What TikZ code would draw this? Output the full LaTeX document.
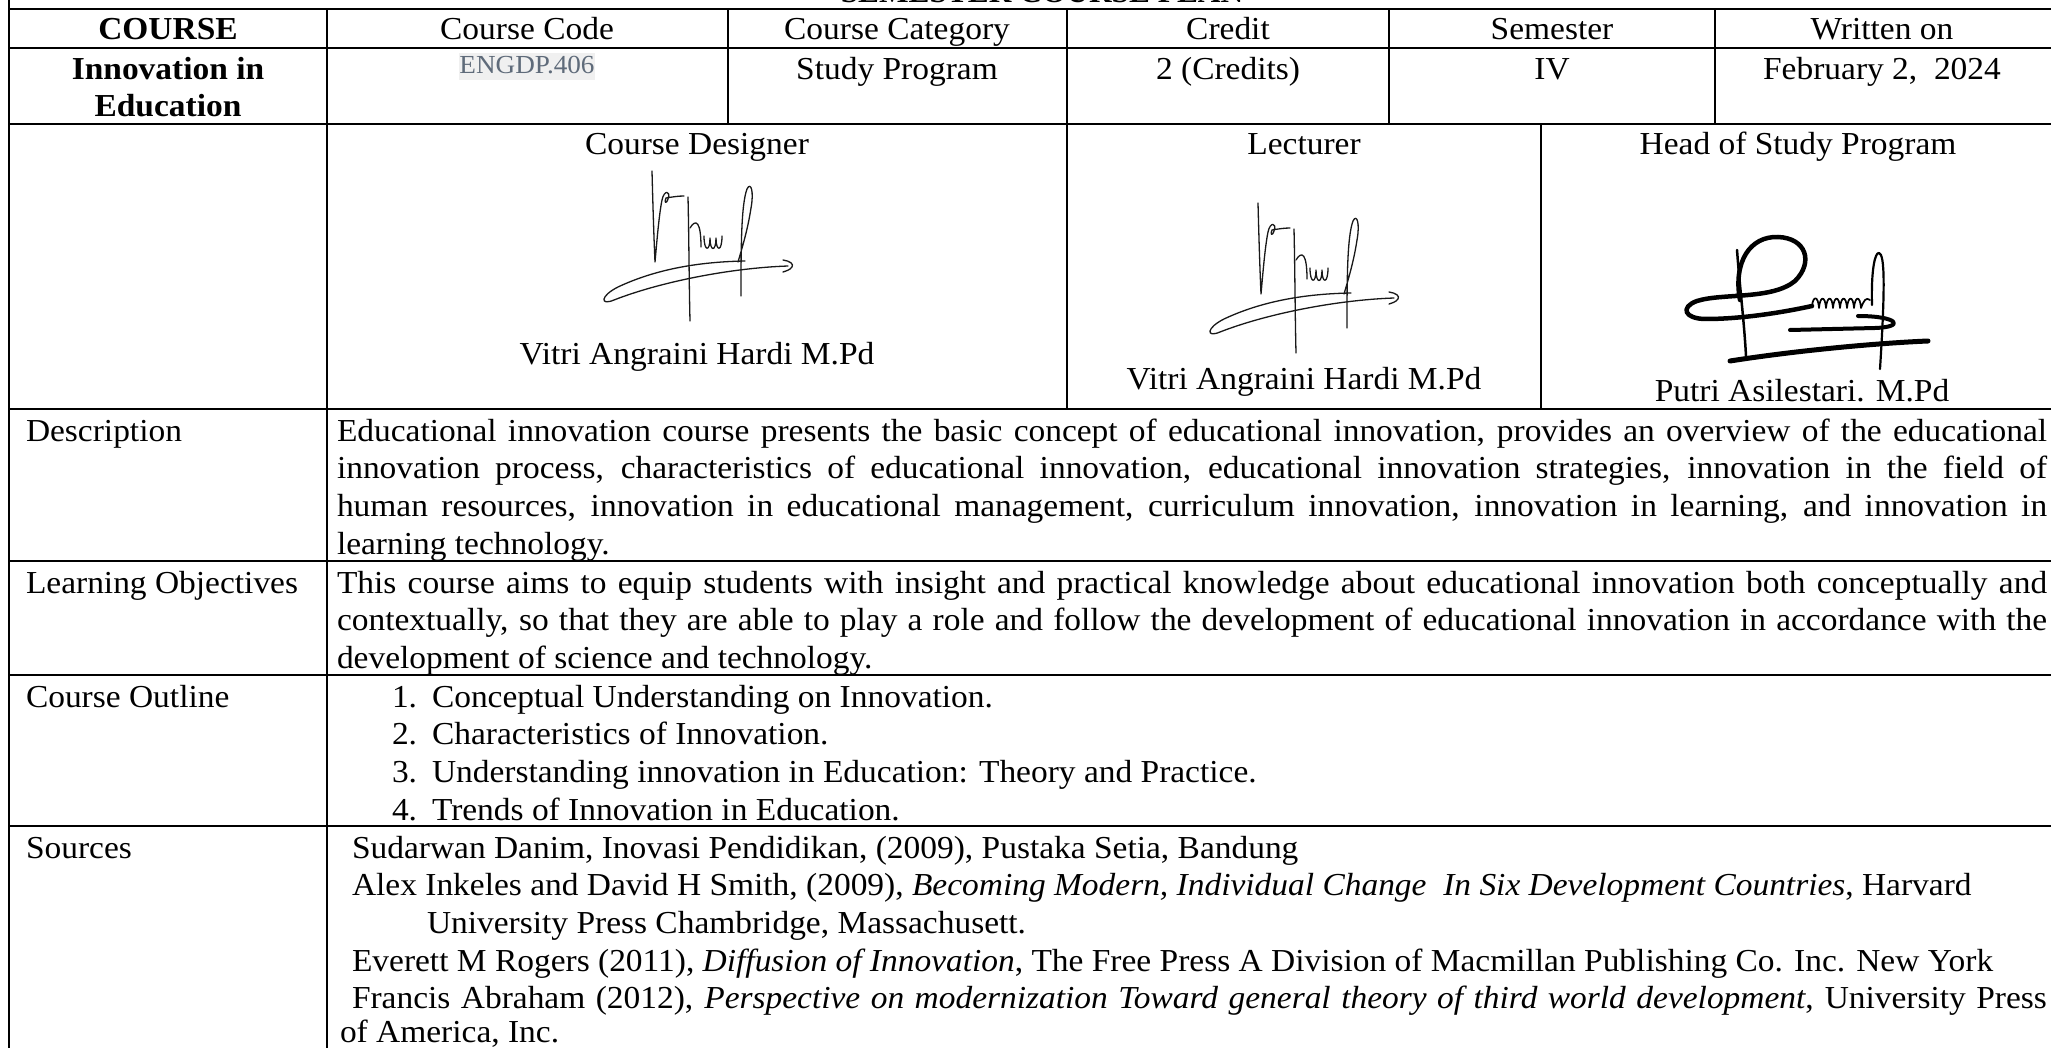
\documentclass[tikz,border=0pt]{standalone}
\usepackage{fontspec}
\setmainfont{Liberation Serif}[FakeStretch=1.045]
\definecolor{codegray}{RGB}{95,107,122}
\definecolor{codebg}{RGB}{240,240,240}
\definecolor{ink}{RGB}{25,25,25}
\newcommand{\jfyline}[1]{\makebox[1710pt][s]{#1}}
\tikzset{
  hrule/.style={line width=2.2pt},
  vrule/.style={line width=1.8pt},
  txt/.style={inner sep=0pt, outer sep=0pt, font=\fontsize{32}{37.7}\selectfont},
  ctr/.style={txt, anchor=base},
  lft/.style={txt, anchor=base west},
  sigline/.style={ink, line width=1.3pt, line cap=round, line join=round},
  sigthick/.style={black, line width=4.5pt, line cap=round, line join=round},
}
\newcommand{\vitrisig}{%
  % V with small loop
  \draw[sigline] (652,171) .. controls (653,210) and (654,240) .. (655,262)
     .. controls (657,240) and (659,215) .. (662,200)
     .. controls (664,190) and (671,190) .. (668,199)
     .. controls (666,205) and (664,202) .. (666,198)
     .. controls (672,197) and (678,196) .. (684,196);
  % long vertical
  \draw[sigline] (688,197) .. controls (689,240) and (689,280) .. (690,321);
  % h arch and uu
  \draw[sigline] (690,228) .. controls (696,218) and (701,222) .. (701,247);
  \draw[sigline] (704,236) .. controls (704,252) and (710,252) .. (710,238)
     .. controls (710,252) and (716,252) .. (716,238)
     .. controls (716,252) and (722,252) .. (722,236);
  % tall right loop
  \draw[sigline] (741,296) .. controls (741,250) and (741,205) .. (747,189)
     .. controls (751,181) and (754,192) .. (751,208)
     .. controls (748,228) and (743,245) .. (738,262);
  % swoosh
  \draw[sigline] (788,266) .. controls (730,268) and (660,282) .. (614,300)
     .. controls (600,306) and (600,296) .. (618,287)
     .. controls (650,272) and (690,262) .. (745,261);
  % arrow end
  \draw[sigline] (783,260) .. controls (790,261) and (794,264) .. (792,267)
     .. controls (790,270) and (786,271) .. (783,272);
}
\begin{document}
\begin{tikzpicture}[x=1pt,y=-1pt]
\useasboundingbox (0,0) rectangle (2051,1048);
\clip (0,0) rectangle (2051,1048);
\fill[white] (0,0) rectangle (2051,1048);

% title (mostly cut off at the top)
\node[ctr, font=\fontsize{30}{36}\selectfont\bfseries] (title) at (1042,3) {SEMESTER COURSE PLAN};

% table rules
\draw[vrule] (9,0) -- (9,1048);
\draw[vrule] (327,9) -- (327,1048);
\draw[vrule] (728,9) -- (728,124);
\draw[vrule] (1067,9) -- (1067,409);
\draw[vrule] (1389,9) -- (1389,124);
\draw[vrule] (1715,9) -- (1715,124);
\draw[vrule] (1541,124) -- (1541,409);
\foreach \yy in {9,48,124,409,561,675,826}
  \draw[hrule] (8,\yy) -- (2051,\yy);

% header row
\node[ctr, font=\fontsize{32}{37.7}\selectfont\bfseries] (hcourse) at (168,40) {COURSE};
\node[ctr] (hcode) at (527,40) {Course Code};
\node[ctr] (hcat) at (897,40) {Course Category};
\node[ctr] (hcred) at (1228,40) {Credit};
\node[ctr] (hsem) at (1552,40) {Semester};
\node[ctr] (hwrit) at (1882,40) {Written on};

% second row
\node[ctr, font=\fontsize{32}{37.7}\selectfont\bfseries] (cname1) at (168,80) {Innovation in};
\node[ctr, font=\fontsize{32}{37.7}\selectfont\bfseries] (cname2) at (168,117) {Education};
\fill[codebg] (459,53) rectangle (595,80);
\node[ctr, font=\fontsize{26}{30}\selectfont, text=codegray] (code) at (527,74) {ENGDP.406};
\node[ctr] (cat) at (897,80) {Study Program};
\node[ctr] (cred) at (1228,80) {2 (Credits)};
\node[ctr] (sem) at (1552,80) {IV};
\node[ctr] (date) at (1882,80) {February 2,\ \ 2024};

% signature row
\node[ctr] (sl1) at (697,155) {Course Designer};
\node[ctr] (sl2) at (1304,155) {Lecturer};
\node[ctr] (sl3) at (1798,155) {Head of Study Program};
\vitrisig
\begin{scope}[shift={(606,32)}]
  \vitrisig
\end{scope}
% head of study program signature
\draw[sigthick] (1740,300) .. controls (1733,262) and (1750,236) .. (1778,237)
   .. controls (1806,238) and (1814,262) .. (1795,281)
   .. controls (1772,300) and (1722,293) .. (1697,301)
   .. controls (1680,307) and (1684,319) .. (1706,319)
   .. controls (1740,319) and (1780,313) .. (1812,306);
\draw[sigthick, line width=2.5pt] (1737,250) .. controls (1740,290) and (1744,320) .. (1746,356);
\draw[sigline, black, line width=1.7pt] (1812,306)
   \foreach \i in {0,...,6} { .. controls ({1813+7*\i},296) and ({1818+7*\i},295) .. ({1819+7*\i},308) }
   .. controls (1864,300) and (1866,297) .. (1870,300);
\draw[sigthick, line width=2.2pt] (1872,305) .. controls (1871,270) and (1875,252) .. (1879,253)
   .. controls (1885,254) and (1885,290) .. (1880,369);
\draw[sigthick, line width=4pt] (1858,316) .. controls (1898,316) and (1906,327) .. (1875,328) -- (1790,330);
\draw[sigthick, line width=5pt] (1730,361) .. controls (1800,350) and (1880,343) .. (1928,341);

\node[ctr] (sn1) at (697,365) {Vitri Angraini Hardi M.Pd};
\node[ctr] (sn2) at (1304,390) {Vitri Angraini Hardi M.Pd};
\node[ctr] (sn3) at (1802,402) {Putri Asilestari. M.Pd};

% row labels
\node[lft] (ldesc) at (26,441) {Description};
\node[lft] (lobj) at (26,593) {Learning Objectives};
\node[lft] (lout) at (26,707) {Course Outline};
\node[lft] (lsrc) at (26,858) {Sources};

% description
\node[lft] (d1) at (337,441) {\jfyline{Educational innovation course presents the basic concept of educational innovation, provides an overview of the educational}};
\node[lft] (d2) at (337,478.7) {\jfyline{innovation process, characteristics of educational innovation, educational innovation strategies, innovation in the field of}};
\node[lft] (d3) at (337,516.4) {\jfyline{human resources, innovation in educational management, curriculum innovation, innovation in learning, and innovation in}};
\node[lft] (d4) at (337,554.1) {learning technology.};

% learning objectives
\node[lft] (o1) at (337,593) {\jfyline{This course aims to equip students with insight and practical knowledge about educational innovation both conceptually and}};
\node[lft] (o2) at (337,630.7) {\jfyline{contextually, so that they are able to play a role and follow the development of educational innovation in accordance with the}};
\node[lft] (o3) at (337,668.4) {development of science and technology.};

% course outline
\node[lft] (n1) at (392,707) {1.};
\node[lft] (t1) at (432,707) {Conceptual Understanding on Innovation.};
\node[lft] (n2) at (392,744.7) {2.};
\node[lft] (t2) at (432,744.7) {Characteristics of Innovation.};
\node[lft] (n3) at (392,782.4) {3.};
\node[lft] (t3) at (432,782.4) {Understanding innovation in Education: Theory and Practice.};
\node[lft] (n4) at (392,820.1) {4.};
\node[lft] (t4) at (432,820.1) {Trends of Innovation in Education.};

% sources
\node[lft] (s1) at (352,858) {Sudarwan Danim, Inovasi Pendidikan, (2009), Pustaka Setia, Bandung};
\node[lft] (s2) at (352,895.7) {Alex Inkeles and David H Smith, (2009), \textit{Becoming Modern, Individual Change\ \ In Six Development Countries}, Harvard};
\node[lft] (s3) at (427,933.4) {University Press Chambridge, Massachusett.};
\node[lft] (s4) at (352,971.1) {Everett M Rogers (2011), \textit{Diffusion of Innovation}, The Free Press A Division of Macmillan Publishing Co. Inc. New York};
\node[lft] (s5) at (352,1008.8) {\makebox[1695pt][s]{Francis Abraham (2012), \textit{Perspective on modernization Toward general theory of third world development}, University Press}};
\node[lft] (s6) at (340,1042) {of America, Inc.};
\end{tikzpicture}
\end{document}
